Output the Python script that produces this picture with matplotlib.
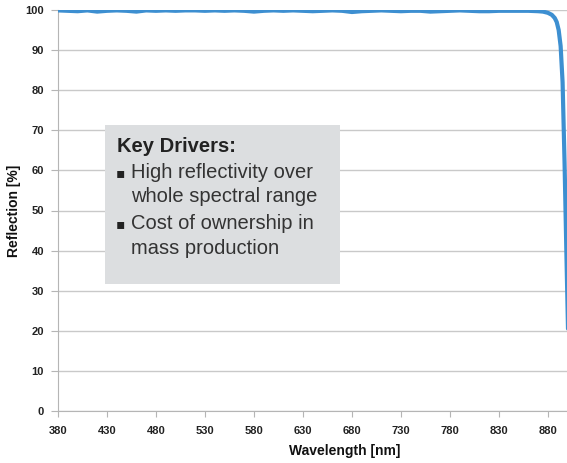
import numpy as np
import matplotlib.pyplot as plt
from matplotlib.patches import Rectangle

plt.rcParams['font.family'] = ['Liberation Sans', 'DejaVu Sans']

# reflection spectrum
wavelength = [380, 390, 400, 410, 420, 430, 440, 450, 460, 470, 480, 490, 500,
              510, 520, 530, 540, 550, 560, 570, 580, 590, 600, 610, 620, 630,
              640, 650, 660, 670, 680, 690, 700, 710, 720, 730, 740, 750, 760,
              770, 780, 790, 800, 810, 820, 830, 840, 850, 860, 870, 875, 880,
              884, 887, 889, 891, 893, 895, 897, 899, 901]
reflection = [99.9, 99.8, 99.7, 99.9, 99.6, 99.8, 99.9, 99.8, 99.6, 99.9, 99.8,
              99.9, 99.8, 99.9, 99.9, 99.8, 99.9, 99.8, 99.9, 99.8, 99.6, 99.8,
              99.9, 99.8, 99.9, 99.8, 99.7, 99.8, 99.9, 99.8, 99.5, 99.7, 99.8,
              99.9, 99.8, 99.7, 99.8, 99.8, 99.6, 99.7, 99.8, 99.9, 99.8, 99.7,
              99.7, 99.8, 99.8, 99.8, 99.8, 99.7, 99.6, 99.3,
              98.8, 98.0, 97.0, 95.0, 91.0, 82.0, 62.0, 38.0, 15.0]

x_ticks = [380, 430, 480, 530, 580, 630, 680, 730, 780, 830, 880]
y_ticks = [0, 10, 20, 30, 40, 50, 60, 70, 80, 90, 100]

box_title = 'Key Drivers:'
box_lines = [('\u25aa', 'High reflectivity over'),
             ('', 'whole spectral range'),
             ('\u25aa', 'Cost of ownership in'),
             ('', 'mass production')]

fig = plt.figure(figsize=(5.67, 4.63), dpi=100)
ax = fig.add_axes([58 / 567, 1 - 411 / 463, 1 - 58 / 567, 401 / 463])

ax.plot(wavelength, reflection, color='#3d8fd1', lw=3, solid_capstyle='round',
        zorder=3)

ax.set_xlim(380, 899.5)
ax.set_ylim(0, 100)
ax.set_xticks(x_ticks)
ax.set_yticks(y_ticks)
ax.grid(axis='y', color='#c9c9c9', lw=1)
ax.set_axisbelow(True)
for s in ['top', 'right']:
    ax.spines[s].set_visible(False)
for s in ['left', 'bottom']:
    ax.spines[s].set_color('#b5b5b5')
ax.tick_params(axis='both', colors='#b5b5b5', length=4, labelcolor='#222222',
               labelsize=8)
ax.tick_params(axis='x', pad=7)
ax.tick_params(axis='y', length=5, pad=5)
for lab in ax.get_xticklabels() + ax.get_yticklabels():
    lab.set_fontweight('bold')

ax.set_xlabel('Wavelength [nm]', fontsize=10, fontweight='bold', color='#111111')
ax.xaxis.set_label_coords((345 - 58) / 509, -0.082)
ax.set_ylabel('Reflection [%]', fontsize=10, fontweight='bold', color='#111111')
ax.yaxis.set_label_coords(-0.072, 0.5)

# text box in pixel coordinates of the figure
W, H = 567, 463
fig.patches.append(Rectangle((105 / W, 1 - 284 / H), 235 / W, 159 / H,
                             transform=fig.transFigure, facecolor='#dcdee0',
                             edgecolor='none', zorder=5))
fig.text(117 / W, 1 - 147 / H, box_title, fontsize=14.5, fontweight='bold',
         color='#222222', va='center', zorder=6)
ys = [172, 197, 223, 249]
for (b, t), yy in zip(box_lines, ys):
    if b:
        fig.text(116 / W, 1 - (yy + 1) / H, b, fontsize=10, color='#222222',
                 va='center', zorder=6, family='DejaVu Sans')
    fig.text(131 / W, 1 - yy / H, t, fontsize=14.5, color='#333333',
             va='center', zorder=6)

fig.savefig('out.png', dpi=100)
